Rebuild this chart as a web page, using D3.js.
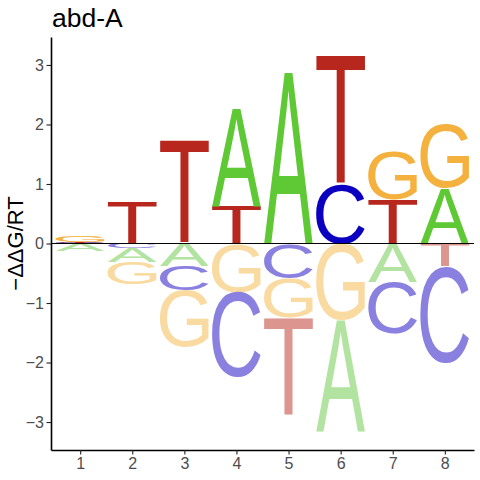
<!DOCTYPE html>
<html>
<head>
<meta charset="utf-8">
<script src="https://cdn.jsdelivr.net/npm/d3@7"></script>
<style>
body { margin: 0; background: #fff; }
</style>
</head>
<body>
<svg id="chart" width="480" height="480"></svg>
<script>
var positions = [1, 2, 3, 4, 5, 6, 7, 8];
var bases = ["A", "C", "G", "T"];
// -ddG/RT per position
var valuesA = [-0.13, -0.23, -0.38, 1.63, 2.88, -1.88, -0.65, 0.93];
var valuesC = [0.015, -0.08, -0.41, -1.43, -0.58, 0.99, -0.87, -1.62];
var valuesG = [0.10, -0.37, -0.94, -0.82, -0.67, -1.28, 0.81, 1.09];
var valuesT = [0.015, 0.69, 1.73, 0.63, -1.64, 2.17, 0.73, -0.39];
var yTicks = [-3, -2, -1, 0, 1, 2, 3];
var title = "abd-A";
var yLabel = "\u2212\u0394\u0394G/RT";

var darkColors = { A: "#5ec935", C: "#0c00c0", G: "#f5b13e", T: "#b8271e" };
var lightColors = { A: "#b2e3a0", C: "#8980e0", G: "#f9daa0", T: "#dc958f" };

var fontFamily = "'Liberation Sans', Arial, sans-serif";

var x = d3.scaleLinear().domain([0.44, 8.56]).range([51, 474]);
var y = d3.scaleLinear().domain([-3.47, 3.47]).range([450, 37]);

var svg = d3.select("#chart");

// stack letters: smallest next to zero, biggest outside
var values = { A: valuesA, C: valuesC, G: valuesG, T: valuesT };
var letters = [];
positions.forEach(function(pos, i) {
    var rows = bases.map(function(b) {
        return { base: b, pos: pos, value: values[b][i] };
    });
    var up = rows.filter(function(r) { return r.value > 0; })
                 .sort(function(a, b) { return a.value - b.value; });
    var down = rows.filter(function(r) { return r.value <= 0; })
                   .sort(function(a, b) { return b.value - a.value; });
    var sum = 0;
    up.forEach(function(r) {
        r.bottom = sum;
        sum += r.value;
        r.top = sum;
        letters.push(r);
    });
    sum = 0;
    down.forEach(function(r) {
        r.top = sum;
        sum += r.value;
        r.bottom = sum;
        letters.push(r);
    });
});

// tight glyph boxes so each letter fills its rectangle
var ctx = document.createElement("canvas").getContext("2d");
ctx.font = "100px " + fontFamily;
var glyphBox = {};
bases.forEach(function(b) {
    var m = ctx.measureText(b);
    glyphBox[b] = {
        left: m.actualBoundingBoxLeft,
        width: m.actualBoundingBoxLeft + m.actualBoundingBoxRight,
        ascent: m.actualBoundingBoxAscent,
        height: m.actualBoundingBoxAscent + m.actualBoundingBoxDescent
    };
});

svg.append("g")
    .selectAll("text")
    .data(letters)
    .enter()
    .append("text")
    .text(function(d) { return d.base; })
    .attr("font-family", fontFamily)
    .attr("font-size", 100)
    .attr("fill", function(d) {
        return d.value > 0 ? darkColors[d.base] : lightColors[d.base];
    })
    .attr("transform", function(d) {
        var g = glyphBox[d.base];
        var x0 = x(d.pos - 0.47);
        var x1 = x(d.pos + 0.47);
        var yTop = y(d.top);
        var yBot = y(d.bottom);
        return "translate(" + x0 + "," + yTop + ") scale(" + ((x1 - x0) / g.width) + "," +
            ((yBot - yTop) / g.height) + ") translate(" + g.left + "," + g.ascent + ")";
    });

// zero line
svg.append("line")
    .attr("x1", x.range()[0])
    .attr("x2", x.range()[1])
    .attr("y1", y(0))
    .attr("y2", y(0))
    .attr("stroke", "#000")
    .attr("stroke-width", 1);

var yAxis = svg.append("g")
    .attr("transform", "translate(" + x.range()[0] + ",0)")
    .call(d3.axisLeft(y).tickValues(yTicks).tickFormat(d3.format("d")).tickSize(4.5).tickSizeOuter(0).tickPadding(2.5));

var xAxis = svg.append("g")
    .attr("transform", "translate(0," + y.range()[0] + ")")
    .call(d3.axisBottom(x).tickValues(positions).tickSize(4.5).tickSizeOuter(0).tickPadding(3.5));

[yAxis, xAxis].forEach(function(ax) {
    ax.select(".domain").attr("stroke", "#000").attr("stroke-width", 1.6);
    ax.selectAll(".tick line").attr("stroke", "#222").attr("stroke-width", 1.1);
    ax.selectAll(".tick text")
        .attr("font-family", fontFamily)
        .attr("font-size", 16)
        .attr("fill", "#4d4d4d");
});

svg.append("text")
    .attr("x", 52)
    .attr("y", 27)
    .attr("font-family", fontFamily)
    .attr("font-size", 26.5)
    .attr("fill", "#000")
    .text(title);

svg.append("text")
    .attr("transform", "translate(23," + y(0) + ") rotate(-90)")
    .attr("text-anchor", "middle")
    .attr("font-family", fontFamily)
    .attr("font-size", 22)
    .attr("fill", "#000")
    .text(yLabel);
</script>
</body>
</html>
